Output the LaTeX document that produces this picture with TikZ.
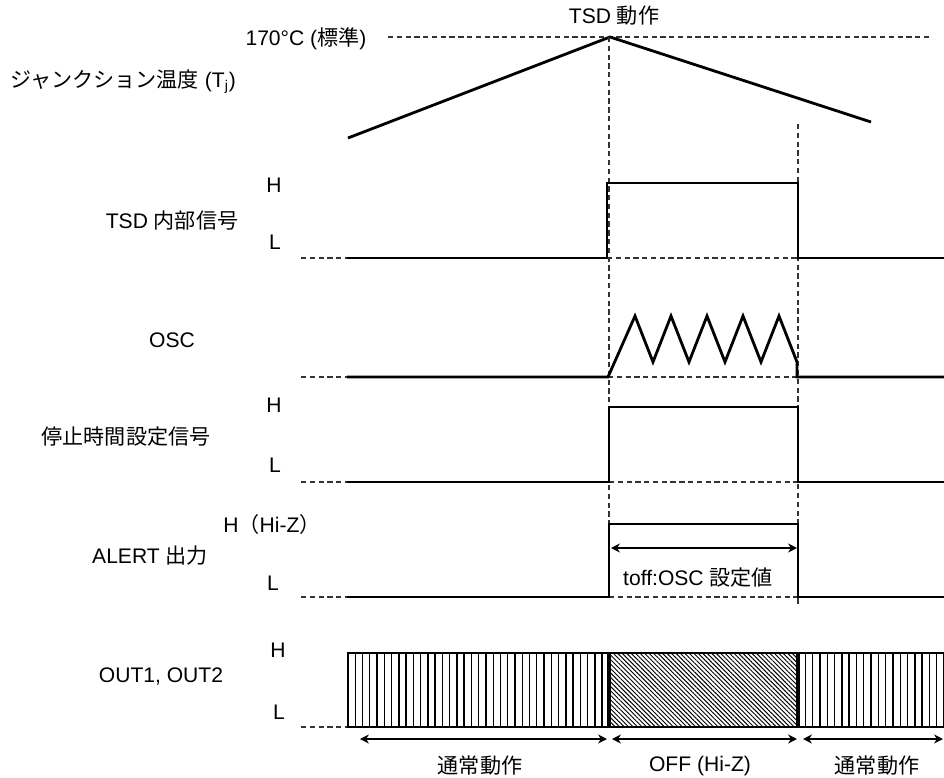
\documentclass[tikz,border=0pt]{standalone}
\usepackage{fontspec}
\setmainfont{Liberation Sans}
\newfontfamily\jp{Noto Sans CJK JP}
\usetikzlibrary{arrows.meta, patterns.meta}

\begin{document}
\begin{tikzpicture}[
            x=0.02cm, y=-0.02cm,
            font=\fontsize{12}{14}\selectfont,
            sigtext/.style={inner sep=0pt},
            signal/.style ={line width=1.6pt, line join=miter},
            guide/.style  ={line width=0.7pt, dash pattern=on 3pt off 2pt, black!80},
            hatch/.style  ={line width=0.8pt},
            arrow/.style  ={{Stealth[length=5pt,width=5pt,inset=1.5pt]}-{Stealth[length=5pt,width=5pt,inset=1.5pt]},
                            line width=1.1pt}
        ]
        \useasboundingbox (0,0) rectangle (944,778);

        \node[sigtext] (tsdact)  at (614,16)  {TSD {\jp 動作}};
        \node[sigtext] (tref)    at (306,39)  {170°C ({\jp 標準})};
        \node[sigtext, anchor=west] (tj) at (10,82) {{\jp ジャンクション温度} (T\textsubscript{j})};

        \node[sigtext] (tsdname)   at (172,221) {TSD {\jp 内部信号}};
        \node[sigtext] (tsdh)      at (274,185) {H};
        \node[sigtext] (tsdl)      at (275,242) {L};
        \node[sigtext] (oscname)   at (172,340) {OSC};
        \node[sigtext] (stopname)  at (126,437) {\jp 停止時間設定信号};
        \node[sigtext] (stoph)     at (274,405) {H};
        \node[sigtext] (stopl)     at (275,465) {L};
        \node[sigtext] (alertname) at (150,556) {ALERT {\jp 出力}};
        \node[sigtext] (alerth)    at (272,524) {H{\jp （}Hi-Z{\jp ）}};
        \node[sigtext] (alertl)    at (273,583) {L};
        \node[sigtext] (outname)   at (161,676) {OUT1, OUT2};
        \node[sigtext] (outh)      at (278,650) {H};
        \node[sigtext] (outl)      at (279,712) {L};

        \draw[guide] (388,37) -- (930,37);
        \draw[signal] (348,138) -- (610,37) -- (871,122);
        \draw[guide] (609,37) -- (609,597);
        \draw[guide] (798,124) -- (798,606);

        \draw[guide] (301,258) -- (347,258) (607,258) -- (798,258);
        \draw[signal] (347,258) -- (607,258) -- (607,183) -- (798,183) -- (798,258) -- (944,258);

        \draw[guide] (301,377) -- (347,377) (608,377) -- (798,377);
        \draw[signal] (347,377) -- (608,377)
            \foreach \k in {0,...,4} { -- ({635+36*\k},316) -- ({653+36*\k},362) }
            -- (797,377) -- (944,377);

        \draw[guide] (301,482) -- (347,482) (609,482) -- (798,482);
        \draw[signal] (347,482) -- (609,482) -- (609,407) -- (798,407) -- (798,482) -- (944,482);

        \draw[guide] (301,597) -- (347,597) (609,597) -- (798,597);
        \draw[signal] (347,597) -- (609,597) -- (609,524) -- (798,524) -- (798,597) -- (944,597);

        \coordinate (toffl) at (611,548);
        \coordinate (toffr) at (797,548);
        \draw[arrow] (toffl) -- (toffr);
        \node[sigtext] (toff) at (698,578) {toff:OSC {\jp 設定値}};

        \fill[pattern={Lines[angle=-45, distance=1.8pt, line width=0.55pt]}] (609,653) rectangle (798,727);
        \foreach \i in {1,...,35} \draw[hatch] ({348+7.26*\i},653) -- ++(0,74);
        \foreach \i in {1,...,20} \draw[hatch] ({798+7.3*\i},653) -- ++(0,74);
        \draw[line width=1.2pt] (944,653) -- (348,653) -- (348,727) -- (944,727);
        \draw[line width=1.8pt] (609,653) -- (609,727) (798,653) -- (798,727);
        \draw[guide] (301,727) -- (347,727);

        \coordinate (norm1l) at (360,739);
        \coordinate (norm1r) at (607,739);
        \coordinate (offl)   at (612,739);
        \coordinate (offr)   at (797,739);
        \coordinate (norm2l) at (803,739);
        \coordinate (norm2r) at (943,739);
        \draw[arrow] (norm1l) -- (norm1r);
        \draw[arrow] (offl)   -- (offr);
        \draw[arrow] (norm2l) -- (norm2r);
        \node[sigtext] (norm1) at (480,766) {\jp 通常動作};
        \node[sigtext] (offz)  at (700,766) {OFF (Hi-Z)};
        \node[sigtext] (norm2) at (877,766) {\jp 通常動作};
        \end{tikzpicture}
\end{document}
